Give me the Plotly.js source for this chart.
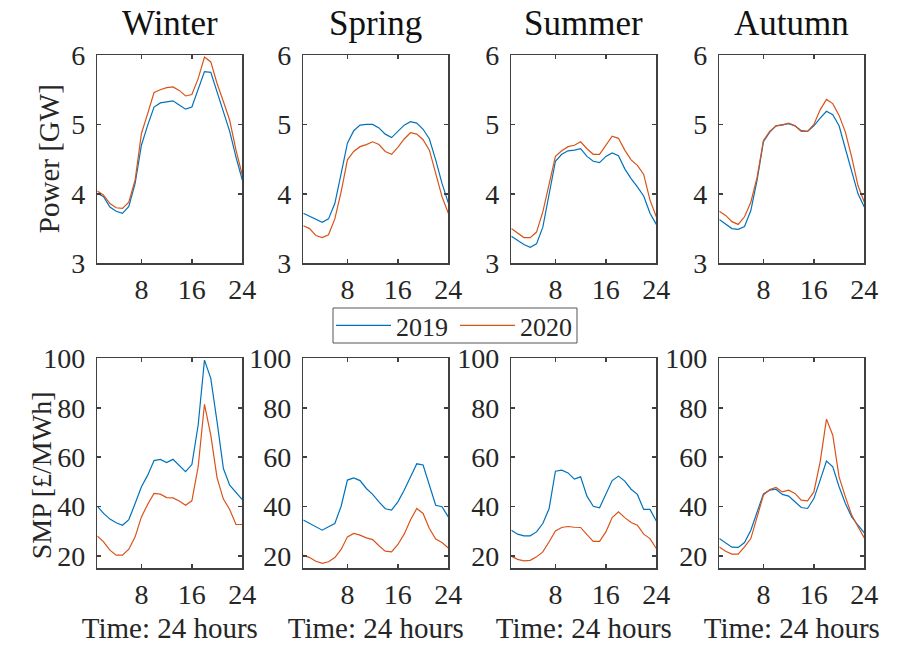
<!DOCTYPE html>
<html>
<head>
<meta charset="utf-8">
<script src="https://cdn.plot.ly/plotly-3.0.1.min.js"></script>
<style>
  html, body { margin: 0; padding: 0; background: #fff; }
  #chart { width: 899px; height: 648px; }
</style>
</head>
<body>
<div id="chart"></div>
<script>
// ---- data ----
const seasons = ['Winter', 'Spring', 'Summer', 'Autumn'];
const years = ['2019', '2020'];
const hours = [1, 2, 3, 4, 5, 6, 7, 8, 9, 10, 11, 12, 13, 14, 15, 16, 17, 18, 19, 20, 21, 22, 23, 24];
const xTickVals = [8, 16, 24];
const powerTicks = [3, 4, 5, 6];
const smpTicks = [20, 40, 60, 80, 100];
const powerLabel = 'Power [GW]';
const smpLabel = 'SMP [£/MWh]';
const timeLabel = 'Time: 24 hours';

// Power [GW]
const winterPower2019 = [4.01, 3.96, 3.81, 3.75, 3.72, 3.82, 4.15, 4.70, 4.99, 5.25, 5.31, 5.33, 5.34, 5.28, 5.22, 5.25, 5.50, 5.76, 5.75, 5.47, 5.18, 4.90, 4.53, 4.20];
const winterPower2020 = [4.04, 3.98, 3.86, 3.80, 3.79, 3.88, 4.20, 4.87, 5.16, 5.46, 5.50, 5.53, 5.54, 5.49, 5.41, 5.43, 5.66, 5.97, 5.90, 5.59, 5.33, 5.06, 4.63, 4.27];
const springPower2019 = [3.72, 3.68, 3.63, 3.59, 3.64, 3.86, 4.29, 4.73, 4.91, 4.99, 5.00, 5.00, 4.95, 4.86, 4.81, 4.90, 4.99, 5.04, 5.02, 4.93, 4.79, 4.49, 4.15, 3.87];
const springPower2020 = [3.54, 3.50, 3.40, 3.37, 3.41, 3.64, 4.03, 4.49, 4.61, 4.68, 4.71, 4.75, 4.71, 4.61, 4.57, 4.67, 4.79, 4.88, 4.86, 4.78, 4.63, 4.29, 3.96, 3.72];
const summerPower2019 = [3.39, 3.33, 3.27, 3.23, 3.28, 3.52, 4.00, 4.47, 4.57, 4.62, 4.63, 4.65, 4.54, 4.47, 4.45, 4.54, 4.59, 4.55, 4.36, 4.22, 4.10, 3.97, 3.72, 3.56];
const summerPower2020 = [3.50, 3.43, 3.37, 3.37, 3.45, 3.74, 4.15, 4.54, 4.62, 4.68, 4.70, 4.75, 4.65, 4.57, 4.57, 4.70, 4.83, 4.80, 4.63, 4.49, 4.41, 4.28, 3.91, 3.67];
const autumnPower2019 = [3.63, 3.57, 3.50, 3.49, 3.53, 3.76, 4.20, 4.75, 4.89, 4.98, 4.99, 5.01, 4.98, 4.91, 4.90, 4.98, 5.09, 5.19, 5.14, 4.98, 4.65, 4.32, 4.00, 3.81];
const autumnPower2020 = [3.75, 3.69, 3.60, 3.56, 3.67, 3.88, 4.24, 4.77, 4.90, 4.98, 4.99, 5.02, 4.98, 4.90, 4.90, 5.00, 5.21, 5.36, 5.30, 5.13, 4.89, 4.53, 4.12, 3.88];

// SMP [£/MWh]
const winterSmp2019 = [40.1, 37.2, 34.9, 33.4, 32.4, 34.7, 41.2, 48.0, 52.7, 58.6, 59.1, 57.8, 59.1, 56.4, 54.1, 57.0, 73.0, 99.3, 91.9, 74.3, 55.4, 48.6, 45.5, 42.8];
const winterSmp2020 = [28.1, 25.7, 22.3, 20.3, 20.3, 22.7, 27.7, 35.8, 40.9, 45.3, 45.0, 43.6, 43.5, 42.2, 40.5, 42.3, 56.1, 81.4, 68.9, 51.6, 43.0, 38.8, 32.7, 32.7];
const springSmp2019 = [34.5, 33.1, 31.8, 30.4, 31.8, 33.1, 40.1, 50.7, 51.6, 50.5, 47.3, 44.9, 41.9, 39.1, 38.5, 41.9, 46.6, 52.0, 57.3, 56.8, 48.6, 40.5, 39.9, 35.8];
const springSmp2020 = [20.3, 19.3, 17.8, 17.0, 17.6, 19.3, 22.6, 27.7, 29.1, 28.4, 27.3, 26.6, 24.1, 21.9, 21.6, 24.6, 28.8, 34.5, 39.2, 37.2, 31.1, 26.8, 25.4, 23.2];
const summerSmp2019 = [30.4, 28.8, 28.1, 28.1, 29.7, 33.1, 39.2, 54.3, 54.7, 53.6, 51.1, 52.0, 44.2, 40.1, 39.5, 44.9, 50.5, 52.3, 50.3, 47.0, 44.9, 38.8, 38.8, 34.1];
const summerSmp2020 = [19.9, 18.6, 18.0, 18.2, 19.6, 21.6, 25.7, 30.1, 31.5, 31.9, 31.6, 31.5, 28.6, 25.9, 25.9, 29.7, 35.5, 37.8, 35.5, 33.5, 32.4, 28.8, 27.0, 23.0];
const autumnSmp2019 = [27.0, 25.3, 23.5, 23.4, 25.4, 30.4, 37.8, 45.1, 46.6, 47.0, 44.9, 44.2, 41.9, 39.6, 39.2, 43.2, 50.7, 58.4, 56.1, 48.0, 41.2, 35.8, 32.4, 29.3];
const autumnSmp2020 = [23.6, 21.9, 20.7, 20.7, 23.6, 27.0, 35.8, 44.6, 46.9, 47.7, 45.9, 46.6, 45.3, 42.6, 42.3, 45.9, 58.1, 75.4, 68.9, 52.0, 43.9, 36.5, 31.8, 27.3];

const powerSeries = [[winterPower2019, winterPower2020], [springPower2019, springPower2020],
                     [summerPower2019, summerPower2020], [autumnPower2019, autumnPower2020]];
const smpSeries = [[winterSmp2019, winterSmp2020], [springSmp2019, springSmp2020],
                   [summerSmp2019, summerSmp2020], [autumnSmp2019, autumnSmp2020]];

// ---- styling ----
const W = 899, H = 648;
const colors = ['#0072BD', '#D95319'];
const FONT = 'Liberation Serif';
const TXT = '#262626';
const AX = '#404040';
const colPx = [[97.3, 242.3], [303.3, 448.3], [511.3, 656.3], [719.3, 864.3]];
const topRowPx = [55, 263.3];
const botRowPx = [358.4, 568.2];
const legendBoxPx = [333, 308, 577, 343];

const traces = [];
const layout = {
  width: W, height: H,
  margin: {l: 0, r: 0, t: 0, b: 0, pad: 0},
  paper_bgcolor: '#fff', plot_bgcolor: '#fff',
  font: {family: FONT, color: TXT, size: 28},
  showlegend: true,
  legend: {
    orientation: 'h',
    x: 455 / W, xanchor: 'center',
    y: 1 - 325.5 / H, yanchor: 'middle',
    borderwidth: 0,
    bgcolor: 'rgba(0,0,0,0)',
    font: {family: FONT, size: 26, color: TXT},
    entrywidth: 54, entrywidthmode: 'pixels',
    itemwidth: 55,
    tracegroupgap: 0
  },
  shapes: [{
    type: 'rect', xref: 'paper', yref: 'paper',
    x0: legendBoxPx[0] / W, x1: legendBoxPx[2] / W,
    y0: 1 - legendBoxPx[3] / H, y1: 1 - legendBoxPx[1] / H,
    line: {color: '#555', width: 1}, fillcolor: 'rgba(0,0,0,0)', layer: 'below'
  }],
  annotations: [],
  hovermode: false
};

function axisCommon() {
  return {
    showline: true, linecolor: AX, linewidth: 1.5, mirror: 'ticks',
    ticks: 'inside', ticklen: 4, tickwidth: 1.5, tickcolor: AX,
    showgrid: false, zeroline: false,
    tickfont: {family: FONT, size: 28, color: TXT},
    fixedrange: true
  };
}

for (let c = 0; c < 4; c++) {
  for (let r = 0; r < 2; r++) {
    const idx = r * 4 + c + 1;
    const xa = 'xaxis' + (idx === 1 ? '' : idx);
    const ya = 'yaxis' + (idx === 1 ? '' : idx);
    const xr = 'x' + (idx === 1 ? '' : idx);
    const yr = 'y' + (idx === 1 ? '' : idx);
    const rowPx = r === 0 ? topRowPx : botRowPx;
    const series = r === 0 ? powerSeries[c] : smpSeries[c];
    for (let s = 0; s < 2; s++) {
      traces.push({
        x: hours, y: series[s], type: 'scatter', mode: 'lines',
        name: years[s], legendgroup: years[s],
        showlegend: idx === 1,
        line: {color: colors[s], width: 1.2},
        xaxis: xr, yaxis: yr, hoverinfo: 'skip'
      });
    }
    const xAxis = Object.assign(axisCommon(), {
      domain: [colPx[c][0] / W, colPx[c][1] / W],
      range: [1, 24], tickvals: xTickVals, ticktext: xTickVals.map(String),
      anchor: yr, ticklabelstandoff: 1
    });
    if (r === 1) {
      xAxis.title = {text: timeLabel, font: {family: FONT, size: 29, color: TXT}, standoff: 8};
    }
    const yAxis = Object.assign(axisCommon(), {
      domain: [1 - rowPx[1] / H, 1 - rowPx[0] / H],
      range: r === 0 ? [3, 6] : [15, 100],
      tickvals: r === 0 ? powerTicks : smpTicks,
      ticktext: (r === 0 ? powerTicks : smpTicks).map(String),
      anchor: xr, ticklabelstandoff: 5
    });
    layout[xa] = xAxis;
    layout[ya] = yAxis;
  }
  layout.annotations.push({
    text: seasons[c], showarrow: false,
    xref: 'paper', yref: 'paper',
    x: (colPx[c][0] + colPx[c][1]) / 2 / W, xanchor: 'center',
    y: 1 - 24 / H, yanchor: 'middle',
    font: {family: FONT, size: 35, color: '#111'}
  });
}

// y-axis labels placed like MATLAB ylabels (they share the tick-label column)
layout.annotations.push({
  text: powerLabel, showarrow: false, textangle: -90,
  xref: 'paper', yref: 'paper',
  x: 49 / W, xanchor: 'center',
  y: 1 - (topRowPx[0] + topRowPx[1]) / 2 / H, yanchor: 'middle',
  font: {family: FONT, size: 29, color: TXT}
});
layout.annotations.push({
  text: smpLabel, showarrow: false, textangle: -90,
  xref: 'paper', yref: 'paper',
  x: 41 / W, xanchor: 'center',
  y: 1 - (botRowPx[0] + botRowPx[1]) / 2 / H - 12 / H, yanchor: 'middle',
  font: {family: FONT, size: 28, color: TXT}
});

Plotly.newPlot('chart', traces, layout, {displayModeBar: false, staticPlot: true});
</script>
</body>
</html>
